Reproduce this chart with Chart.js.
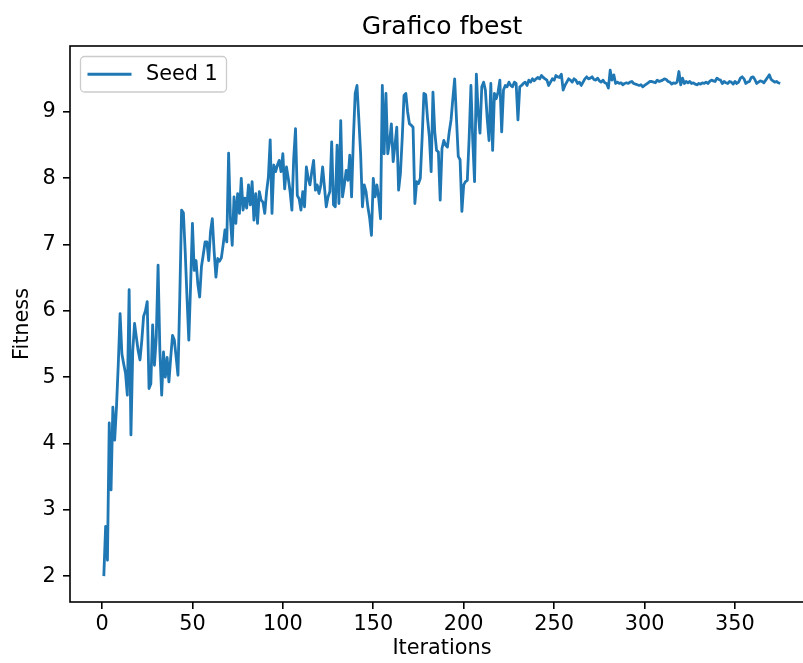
<!DOCTYPE html>
<html>
<head>
<meta charset="utf-8">
<title>Grafico fbest</title>
<script src="https://cdn.jsdelivr.net/npm/chart.js@4.4.1/dist/chart.umd.min.js"></script>
<style>
    html, body { margin: 0; padding: 0; background: #fff; overflow: hidden; }
    #wrap { width: 803px; height: 663px; overflow: hidden; }
</style>
</head>
<body>
<div id="wrap">
    <canvas id="fbestChart" width="884" height="663"></canvas>
</div>
<script>
// fitness per iteration (seed 1)
const fitnessSeed1 = [
    2.00, 2.75, 2.24, 4.31, 3.30, 4.55, 4.05, 4.55, 5.20, 5.96, 5.35, 5.20, 5.06, 4.73, 6.32, 4.13, 5.40, 5.81, 5.60, 5.40, 5.26, 5.55, 5.92, 6.00, 6.14,
    4.83, 4.90, 5.79, 5.18, 5.60, 6.69, 5.40, 4.73, 5.38, 5.00, 5.30, 4.93, 5.30, 5.63, 5.56, 5.30, 5.03, 6.20, 7.52, 7.48, 6.90, 6.20, 5.56, 6.40, 7.32,
    6.61, 6.76, 6.40, 6.21, 6.67, 6.85, 7.04, 7.04, 6.76, 7.20, 7.39, 6.90, 6.51, 6.79, 6.75, 6.80, 7.00, 7.22, 7.04, 8.38, 7.40, 6.99, 7.72, 7.32, 7.77,
    7.47, 8.00, 7.52, 7.70, 7.55, 7.90, 7.60, 7.95, 7.37, 7.77, 7.32, 7.80, 7.67, 7.64, 7.47, 7.80, 8.02, 8.58, 7.47, 8.20, 8.10, 8.20, 8.27, 8.10, 8.37,
    7.84, 8.17, 8.00, 7.80, 7.52, 8.30, 8.75, 7.74, 7.69, 7.52, 7.80, 7.57, 8.17, 8.00, 7.90, 8.10, 8.27, 7.82, 7.90, 7.77, 7.90, 8.17, 7.87, 7.57, 7.72,
    7.80, 8.55, 7.60, 7.57, 8.50, 7.62, 8.87, 7.72, 7.90, 8.12, 7.97, 8.35, 7.72, 8.60, 9.28, 9.40, 8.90, 8.37, 7.57, 7.90, 7.80, 7.57, 7.40, 7.14, 8.00,
    7.72, 7.90, 7.70, 7.39, 9.40, 8.37, 9.28, 8.37, 8.55, 8.82, 8.25, 8.50, 8.77, 7.82, 8.07, 8.60, 9.25, 9.28, 9.00, 8.82, 8.80, 8.77, 7.62, 7.95, 7.92,
    8.00, 8.60, 9.28, 9.26, 8.90, 8.63, 8.10, 9.30, 8.70, 8.42, 8.40, 7.67, 8.45, 8.57, 8.50, 8.47, 8.70, 8.88, 9.20, 9.50, 8.90, 8.33, 8.28, 7.50, 7.90,
    7.95, 7.97, 8.60, 9.40, 8.57, 7.95, 9.57, 9.00, 8.68, 9.38, 9.45, 9.33, 8.90, 8.57, 9.43, 8.42, 9.28, 9.20, 9.30, 9.48, 8.70, 9.33, 9.40, 9.38, 9.45,
    9.40, 9.38, 9.45, 9.43, 8.88, 9.38, 9.40, 9.43, 9.45, 9.40, 9.48, 9.45, 9.50, 9.47, 9.50, 9.52, 9.50, 9.55, 9.52, 9.50, 9.48, 9.40, 9.45, 9.50, 9.48,
    9.55, 9.53, 9.52, 9.57, 9.33, 9.40, 9.45, 9.50, 9.48, 9.45, 9.50, 9.48, 9.43, 9.45, 9.40, 9.45, 9.50, 9.53, 9.50, 9.51, 9.53, 9.49, 9.48, 9.51, 9.47,
    9.45, 9.48, 9.44, 9.43, 9.36, 9.63, 9.48, 9.56, 9.43, 9.45, 9.43, 9.44, 9.41, 9.43, 9.44, 9.43, 9.45, 9.46, 9.43, 9.42, 9.41, 9.40, 9.41, 9.38, 9.40,
    9.42, 9.44, 9.46, 9.46, 9.45, 9.44, 9.48, 9.46, 9.47, 9.48, 9.50, 9.49, 9.46, 9.45, 9.42, 9.44, 9.43, 9.45, 9.61, 9.41, 9.51, 9.43, 9.46, 9.44, 9.46,
    9.43, 9.44, 9.42, 9.41, 9.43, 9.42, 9.44, 9.43, 9.45, 9.43, 9.46, 9.48, 9.47, 9.46, 9.51, 9.49, 9.48, 9.43, 9.46, 9.44, 9.43, 9.46, 9.45, 9.42, 9.46,
    9.43, 9.45, 9.51, 9.53, 9.50, 9.43, 9.45, 9.46, 9.52, 9.53, 9.49, 9.43, 9.45, 9.47, 9.46, 9.44, 9.48, 9.52, 9.56, 9.49, 9.47, 9.45, 9.46, 9.44, 9.43
];
const iterations = fitnessSeed1.map((v, i) => i + 1);
const xTickValues = [0, 50, 100, 150, 200, 250, 300, 350];
const yTickValues = [2, 3, 4, 5, 6, 7, 8, 9];
const seriesLabel = 'Seed 1';
const chartTitle = 'Grafico fbest';

const FONT = '"DejaVu Sans", sans-serif';
const LINE_BLUE = '#1f77b4';

// matplotlib-like frame, title over the axes and legend box in the upper left corner
const mplFrame = {
    id: 'mplFrame',
    afterDatasetsDraw(chart) {
        const a = chart.chartArea;
        const ctx = chart.ctx;
        ctx.save();
        ctx.strokeStyle = '#000';
        ctx.lineWidth = 1.6;
        ctx.strokeRect(a.left, a.top, a.right - a.left, a.bottom - a.top);

        // title, centred on the axes like matplotlib does
        ctx.fillStyle = '#000';
        ctx.font = '25px ' + FONT;
        ctx.textAlign = 'center';
        ctx.textBaseline = 'alphabetic';
        ctx.fillText(chartTitle, (a.left + a.right) / 2, a.top - 12.5);

        // legend
        const bx = a.left + 10.5, by = a.top + 10.5, bw = 146, bh = 35.5;
        ctx.beginPath();
        ctx.roundRect(bx, by, bw, bh, 4);
        ctx.fillStyle = 'rgba(255,255,255,0.8)';
        ctx.fill();
        ctx.strokeStyle = '#cccccc';
        ctx.lineWidth = 1.3;
        ctx.stroke();

        const cy = by + bh / 2;
        ctx.beginPath();
        ctx.moveTo(bx + 7, cy);
        ctx.lineTo(bx + 51, cy);
        ctx.strokeStyle = LINE_BLUE;
        ctx.lineWidth = 2.8;
        ctx.stroke();

        ctx.fillStyle = '#000';
        ctx.font = '20.8px ' + FONT;
        ctx.textBaseline = 'middle';
        ctx.textAlign = 'left';
        ctx.fillText(seriesLabel, bx + 65.5, cy);
        ctx.restore();
    }
};

const ctx = document.getElementById('fbestChart').getContext('2d');
const fbestChart = new Chart(ctx, {
    type: 'line',
    data: {
        datasets: [{
            label: seriesLabel,
            data: iterations.map((x, i) => ({ x: x, y: fitnessSeed1[i] })),
            borderColor: LINE_BLUE,
            backgroundColor: LINE_BLUE,
            borderWidth: 2.8,
            borderJoinStyle: 'round',
            pointRadius: 0,
            tension: 0,
            fill: false
        }]
    },
    options: {
        responsive: false,
        animation: false,
        layout: { padding: { left: 0, right: 70, top: 46, bottom: 0 } },
        plugins: {
            legend: { display: false },
            tooltip: { enabled: false },
            title: { display: false }
        },
        scales: {
            x: {
                type: 'linear',
                min: -17.7,
                max: 393.7,
                afterBuildTicks: function (scale) {
                    scale.ticks = xTickValues.map(v => ({ value: v }));
                },
                afterFit: function (scale) { scale.height = 61; },
                border: { display: false },
                grid: {
                    drawOnChartArea: false,
                    drawTicks: true,
                    tickLength: 7,
                    color: '#000',
                    lineWidth: 1.6
                },
                ticks: {
                    color: '#000',
                    font: { family: FONT, size: 20.8 },
                    padding: 3.5,
                    maxRotation: 0
                },
                title: {
                    display: true,
                    text: 'Iterations',
                    color: '#000',
                    font: { family: FONT, size: 20.8 },
                    padding: { top: 0, bottom: 1.5 }
                }
            },
            y: {
                type: 'linear',
                min: 1.61,
                max: 9.995,
                afterBuildTicks: function (scale) {
                    scale.ticks = yTickValues.map(v => ({ value: v }));
                },
                afterFit: function (scale) { scale.width = 70; },
                border: { display: false },
                grid: {
                    drawOnChartArea: false,
                    drawTicks: true,
                    tickLength: 7,
                    color: '#000',
                    lineWidth: 1.6
                },
                ticks: {
                    color: '#000',
                    font: { family: FONT, size: 20.8 },
                    padding: 7.3
                },
                title: {
                    display: true,
                    text: 'Fitness',
                    color: '#000',
                    font: { family: FONT, size: 20.8 },
                    padding: { top: 10, bottom: 0 }
                }
            }
        }
    },
    plugins: [mplFrame]
});
</script>
</body>
</html>
